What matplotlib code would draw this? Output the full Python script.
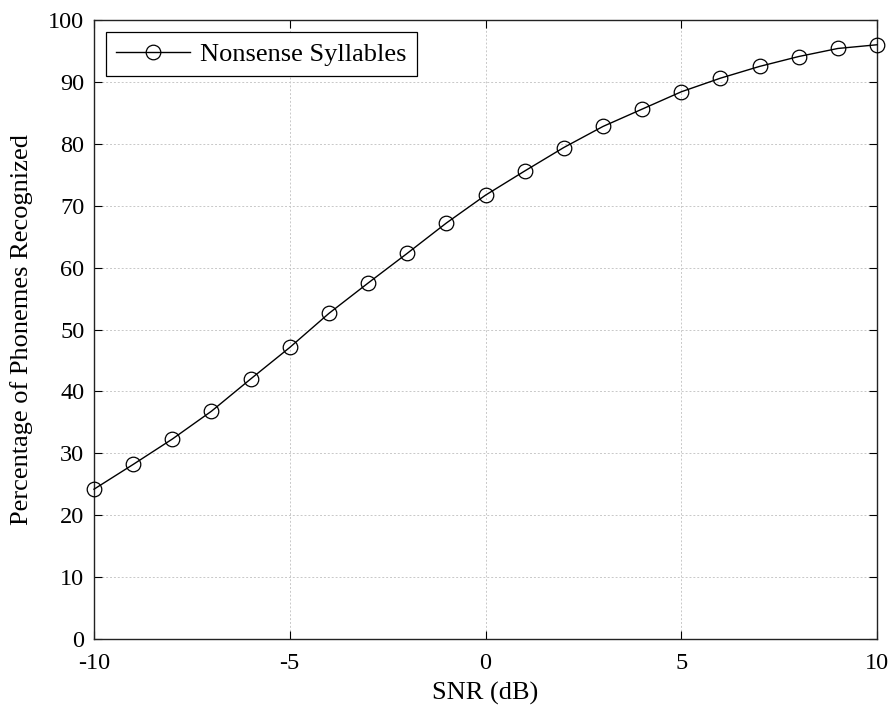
import numpy as np
import matplotlib
matplotlib.use("Agg")
import matplotlib.pyplot as plt

plt.rcParams['font.family'] = ['Liberation Serif', 'DejaVu Serif']

snr = np.arange(-10, 11)
recognized = [24.2, 28.2, 32.3, 36.8, 42.0, 47.1, 52.6, 57.5, 62.3, 67.2,
              71.7, 75.6, 79.4, 82.8, 85.6, 88.4, 90.6, 92.5, 94.1, 95.4, 96.0]

xticks = [-10, -5, 0, 5, 10]
xticklabels = ['-10', '-5', '0', '5', '10']
yticks = np.arange(0, 101, 10)

fig = plt.figure(figsize=(8.93, 7.09), dpi=100)
ax = fig.add_axes([94 / 893, 1 - 639 / 709, 783 / 893, 619 / 709])

ax.plot(snr, recognized, color='black', linewidth=1.0, marker='o',
        markersize=10.5, markerfacecolor='none', markeredgecolor='black',
        markeredgewidth=0.9, label='Nonsense Syllables', clip_on=False, zorder=3)

ax.set_xlim(-10, 10)
ax.set_ylim(0, 100)
ax.set_xticks(xticks)
ax.set_xticklabels(xticklabels)
ax.set_yticks(yticks)

ax.grid(True, color='#c8c8c8', linestyle=(0, (2, 2)), linewidth=0.7)
ax.set_axisbelow(True)
ax.tick_params(direction='in', length=6, width=0.8, labelsize=17.5,
               top=True, right=True)
ax.tick_params(axis='x', pad=10)
ax.tick_params(axis='y', pad=7)
for s in ax.spines.values():
    s.set_linewidth(1.0)
    s.set_color('#222222')

ax.set_xlabel('SNR (dB)', fontsize=19, labelpad=6)
ax.set_ylabel('Percentage of Phonemes Recognized', fontsize=19)
ax.yaxis.set_label_coords(-0.078, 0.5)

# legend box sized to match the reference
leg = ax.legend(loc='upper left', fontsize=19, fancybox=False, framealpha=1,
                edgecolor='black', borderaxespad=0.45, handlelength=2.8,
                handletextpad=0.35, borderpad=0.4)
leg.get_frame().set_linewidth(0.9)

fig.savefig('out.png', dpi=100)
